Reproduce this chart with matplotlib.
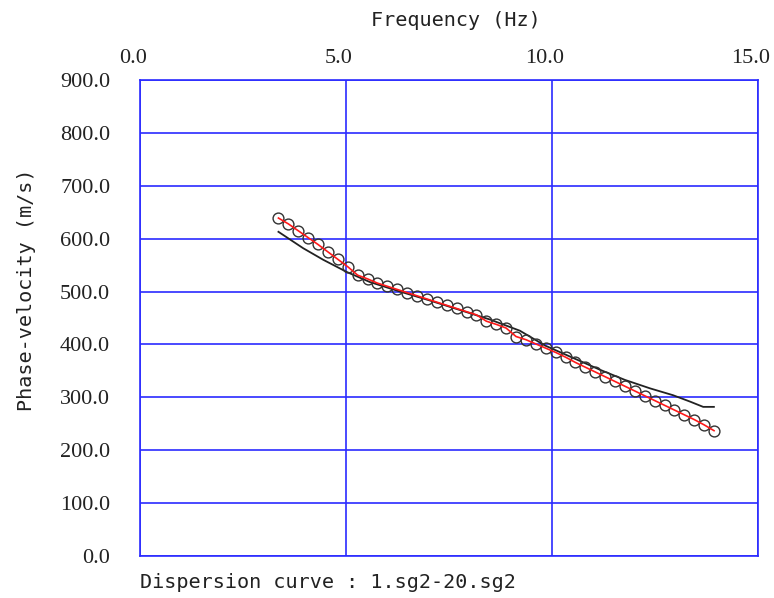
import numpy as np
import matplotlib.pyplot as plt
from matplotlib.transforms import ScaledTranslation

# 観測データ (周波数 Hz, 位相速度 m/s)
obs_freq = [3.36 + 0.2403 * i for i in range(45)]
obs_vel = [639, 628, 615, 602, 589, 575, 561, 547, 531, 524,
           516, 510, 504, 498, 492, 486, 480, 474, 468, 462,
           456, 444, 438, 431, 415, 409, 401, 393, 385, 376,
           366, 357, 348, 339, 330, 321, 312, 303, 294, 285,
           276, 267, 258, 248, 237]

# 理論分散曲線
theo_freq = [3.36, 3.96, 4.45, 5.02, 5.58, 6.31, 7.04, 7.77, 8.50, 9.22,
             9.83, 10.44, 11.17, 11.77, 12.38, 12.94, 13.35, 13.67, 13.93]
theo_vel = [613, 582, 560, 537, 518, 500, 483, 465, 447, 426,
            398, 377, 352, 333, 317, 304, 292, 282, 282]

x_ticks = [0.0, 5.0, 10.0, 15.0]
y_ticks = [0.0, 100.0, 200.0, 300.0, 400.0, 500.0, 600.0, 700.0, 800.0, 900.0]

GRID_COLOR = '#2b2bff'
MONO = 'DejaVu Sans Mono'
SERIF = 'Liberation Serif'


def plot_dispersion(output_path='out.png'):
    """分散曲線を描画します。"""
    fig = plt.figure(figsize=(7.74, 5.98), dpi=100)
    ax = fig.add_axes([0.1809, 0.0702, 0.7984, 0.7960])

    ax.set_xlim(0, 15)
    ax.set_ylim(0, 900)
    ax.set_xticks(x_ticks)
    ax.set_yticks(y_ticks)
    ax.set_xticklabels([f'{t:.1f}' for t in x_ticks])
    ax.set_yticklabels([f'{t:.1f}' for t in y_ticks])
    ax.xaxis.tick_top()
    ax.tick_params(length=0, labelsize=16, colors='#222222')
    ax.tick_params(axis='x', pad=8.5)
    ax.tick_params(axis='y', pad=21.5)
    for lab in ax.get_xticklabels() + ax.get_yticklabels():
        lab.set_fontfamily(SERIF)
    # 上側の目盛ラベルは少し左にずれています。
    offset = ScaledTranslation(-7 / 100, 0, fig.dpi_scale_trans)
    for lab in ax.get_xticklabels():
        lab.set_transform(lab.get_transform() + offset)

    ax.grid(True, color=GRID_COLOR, linewidth=1.2)
    for sp in ax.spines.values():
        sp.set_color(GRID_COLOR)
        sp.set_linewidth(1.2)

    ax.plot(theo_freq, theo_vel, color='#222222', linewidth=1.3, zorder=3)
    ax.plot(obs_freq, obs_vel, linestyle='none', marker='o', markersize=7.8,
            markerfacecolor='none', markeredgecolor='#333333',
            markeredgewidth=1.0, zorder=4)
    ax.plot(obs_freq, obs_vel, color='#ff1a1a', linewidth=1.2, zorder=5)

    ax.xaxis.set_label_position('top')
    ax.set_xlabel('Frequency (Hz)', fontfamily=MONO, fontsize=14.5, color='#222222')
    ax.xaxis.set_label_coords(0.511, 1.113)
    ax.set_ylabel('Phase-velocity (m/s)', fontfamily=MONO, fontsize=14.5, color='#222222')
    ax.yaxis.set_label_coords(-0.168, 0.559)

    fig.text(140 / 774, 1 - 582 / 598, 'Dispersion curve : 1.sg2-20.sg2',
             fontfamily=MONO, fontsize=14.5, color='#222222', va='center', ha='left')

    fig.savefig(output_path, dpi=100)
    plt.close(fig)


if __name__ == '__main__':
    plot_dispersion()
